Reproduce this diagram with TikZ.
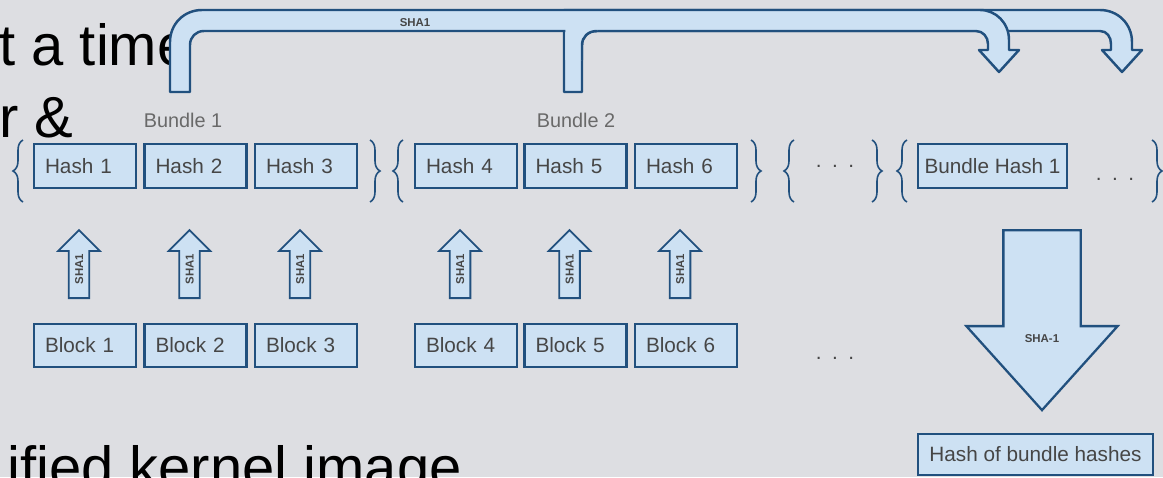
\documentclass[tikz,border=0pt]{standalone}
\usepackage{fontspec}
\setmainfont{Liberation Sans}
\usetikzlibrary{positioning,shapes.arrows,decorations.pathreplacing}

\definecolor{slidebg}{RGB}{221,222,226}
\definecolor{boxfill}{RGB}{205,225,243}
\definecolor{boxline}{RGB}{33,80,126}
\definecolor{boxtext}{RGB}{70,70,70}
\definecolor{lbltext}{RGB}{105,105,105}

\begin{document}
\begin{tikzpicture}[x=0.02cm, y=-0.02cm,
    slidetxt/.style={inner sep=0pt, anchor=base west, font=\fontsize{33pt}{40pt}\selectfont},
    boxbase/.style={draw=boxline, fill=boxfill, line width=1.3pt, text=boxtext,
      font=\fontsize{11.8pt}{14pt}\selectfont, minimum height=0.88cm, inner ysep=0pt},
    hbox/.style={boxbase, text width=1.6cm, align=left, inner xsep=0.22cm},
    wbox/.style={boxbase, align=center, inner xsep=0.1cm},
    blbl/.style={text=lbltext, font=\fontsize{11.3pt}{14pt}\selectfont},
    shaarrow/.style={single arrow, draw=boxline, fill=boxfill, line width=1pt,
      minimum height=1.36cm, minimum width=0.8cm, single arrow head extend=0.21cm,
      text height=4.7pt, text depth=0pt, inner xsep=0pt, inner ysep=3.05pt,
      rotate=90, anchor=tail, text=boxtext,
      font=\fontsize{6.5pt}{7pt}\selectfont\bfseries},
    bigarrow/.style={single arrow, draw=boxline, fill=boxfill, line width=1.3pt,
      minimum height=3.6cm, minimum width=2.98cm, single arrow head extend=0.74cm,
      single arrow tip angle=84, text height=0pt, text depth=0pt,
      inner xsep=0pt, inner ysep=0.75cm, rotate=-90, anchor=tail},
    shalbl/.style={text=boxtext, font=\fontsize{6.5pt}{7pt}\selectfont\bfseries},
    bandarr/.style={draw=boxline, fill=boxfill, line width=1.4pt, line join=round},
    brc/.style={decorate, decoration={brace, amplitude=0.2cm}, draw=boxline, line width=0.9pt},
    dts/.style={text=boxtext, font=\fontsize{11.8pt}{14pt}\selectfont}]
  % ---- slide background ----
  \fill[slidebg] (0,0) rectangle (1163,477);
  \clip (0,0) rectangle (1163,477);
  % ---- slide text behind the figure ----
  \node[slidetxt] (t1) at (-1,65) {t a time};
  \node[slidetxt] (t2) at (-1,137) {r \&};
  \node[slidetxt] (t3) at (7,487) {ified kernel image};
  % ---- SHA1 of the bundle hashes (top bands) ----
  \draw[bandarr] (564,92) -- (564,10) -- (1100,10) .. controls (1118,10) and (1132,24) .. (1132,42)
    -- (1132,50) -- (1142,50) -- (1122,72) -- (1102,50) -- (1111,50) -- (1111,44)
    .. controls (1111,37) and (1107,31) .. (1100,31) -- (596,31)
    .. controls (588,31) and (582,37) .. (582,45) -- (582,92) -- cycle;
  \draw[bandarr] (170,92) -- (170,42) .. controls (170,24) and (184,10) .. (202,10) -- (980,10)
    .. controls (996,10) and (1009,23) .. (1009,40) -- (1009,50) -- (1019,50) -- (999,72)
    -- (979,50) -- (988,50) -- (988,44) .. controls (988,37) and (983,31) .. (976,31)
    -- (204,31) .. controls (196,31) and (190,37) .. (190,45) -- (190,92) -- cycle;
  \fill[boxfill] (565.4,29) -- (597,29) -- (597,31) .. controls (588,31) and (582,37) .. (582,45)
    -- (582,60) -- (565.4,60) -- cycle;
  \draw[boxline, line width=1.4pt] (597,31) .. controls (588,31) and (582,37) .. (582,45) -- (582,60);
  \node[shalbl] (topsha) at (415,23) {SHA1};
  % ---- bundles ----
  \node[blbl] (bl1) at (183,120) {Bundle 1};
  \node[blbl] (bl2) at (576,120) {Bundle 2};
  \foreach \i/\x in {1/85,2/195.5,3/306,4/466,5/575.5,6/686} {
    \node[hbox] (h\i) at (\x,166) {Hash \i};
    \node[hbox, minimum height=0.86cm] (b\i) at (\x,345.5) {Block \i};
    \node[shaarrow] (s\i) at (\x-6,299) {SHA1};
  }
  \node[wbox, minimum width=2.98cm] (bh1) at (992.5,166) {Bundle Hash 1};
  % ---- braces ----
  \foreach \xb in {23,403,794,907}
    \draw[brc] (\xb,202) -- (\xb,140);
  \foreach \xb in {370,751,872,1152}
    \draw[brc] (\xb,140) -- (\xb,202);
  \node[dts] (d1) at (835,166) {.\hspace{6pt}.\hspace{6pt}.};
  \node[dts] (d2) at (1115,179) {.\hspace{6pt}.\hspace{6pt}.};
  \node[dts] (d3) at (835,358) {.\hspace{6pt}.\hspace{6pt}.};
  % ---- final hash ----
  \node[bigarrow] (big) at (1042,229) {};
  \node[shalbl] (bigsha) at (1042,339) {SHA-1};
  \node[wbox, minimum width=4.7cm, minimum height=0.82cm] (hbh) at (1035.5,454.5) {Hash of bundle hashes};
\end{tikzpicture}
\end{document}
